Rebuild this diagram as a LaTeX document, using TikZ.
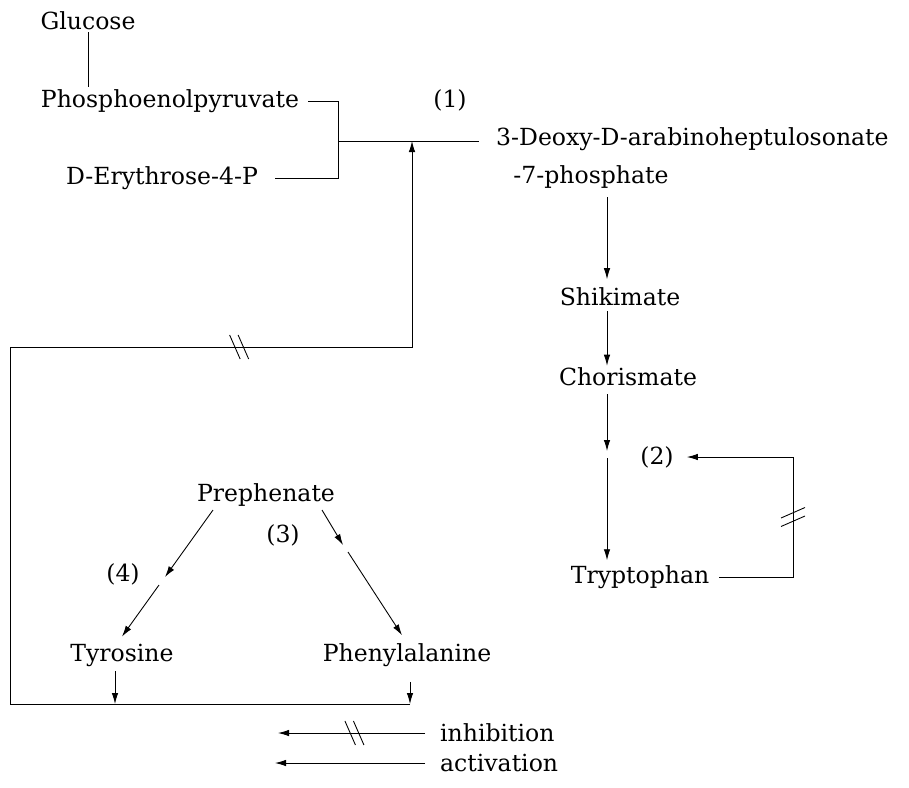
\documentclass[tikz,border=0pt]{standalone}
\usepackage{fontspec}
\setmainfont{DejaVu Serif}
\usetikzlibrary{arrows.meta}
\tikzset{
    met/.style={inner sep=1pt, font=\fontsize{13.4}{16}\selectfont},
    pathway/.style={-{Latex[length=2.2mm,width=1.3mm]}},
    inh/.pic={\draw[-] (-1.9mm,2.4mm) -- (0.2mm,-2.4mm); \draw[-] (-0.2mm,2.4mm) -- (1.9mm,-2.4mm);}
}

\begin{document}
\begin{tikzpicture}[x=0.2mm, y=-0.2mm, line width=0.5pt]
            \useasboundingbox (0,0) rectangle (909,787);
            \node[met] (glc) at (88,21) {Glucose};
            \node[met] (pep) at (170,101) {Phosphoenolpyruvate};
            \node[met] (e4p) at (162,178) {D-Erythrose-4-P};
            \node[met, anchor=west] (dahp) at (494,139) {3-Deoxy-D-arabinoheptulosonate};
            \node[met] (dahp2) at (591,177) {-7-phosphate};
            \node[met] (shk) at (620,297) {Shikimate};
            \node[met] (cho) at (628,377) {Chorismate};
            \node[met] (trp) at (640,577) {Tryptophan};
            \node[met] (pre) at (266,495) {Prephenate};
            \node[met] (tyr) at (122,655) {Tyrosine};
            \node[met] (phe) at (407,655) {Phenylalanine};
            \node[met] (e1) at (450,100) {(1)};
            \node[met] (e2) at (657,457) {(2)};
            \node[met] (e3) at (283,535) {(3)};
            \node[met] (e4) at (123,574) {(4)};
            \node[met, anchor=west] (inhlbl) at (438,733) {inhibition};
            \node[met, anchor=west] (actlbl) at (438,763) {activation};
            \coordinate (jn) at (338,141);
            \coordinate (col) at (607,197);
            \coordinate (brk2) at (607,451);
            \coordinate (brk2b) at (607,458);
            \coordinate (trpr) at (793,457);
            \coordinate (p4a) at (213,510);
            \coordinate (br4) at (165,577);
            \coordinate (br4b) at (159,585);
            \coordinate (p3a) at (322,510);
            \coordinate (br3) at (343,545);
            \coordinate (br3b) at (348,552);
            \coordinate (lpbr) at (410,704);
            \coordinate (lpbl) at (10,704);
            \coordinate (lptl) at (10,347);
            \coordinate (lptr) at (412,347);
            \draw (glc.south) -- (glc.south |- pep.north);
            \draw ([xshift=1.4mm]pep.east) -| (jn);
            \draw ([xshift=3mm]e4p.east) -| (jn);
            \draw (jn) -- ([xshift=-3mm]jn -| dahp.west);
            \draw[pathway] (col) -- ([yshift=1.3mm]col |- shk.north);
            \draw[pathway, shorten <=0.6mm] (col |- shk.south) -- (col |- cho.north);
            \draw[pathway, shorten <=1.2mm] (col |- cho.south) -- (brk2);
            \draw[pathway] (brk2b) -- ([yshift=0.6mm]col |- trp.north);
            \draw[pathway] ([xshift=1.6mm]trp.east) -| pic[pos=0.75, sloped]{inh} (trpr) -- ([xshift=2.2mm]e2.east);
            \draw[pathway] (p4a) -- (br4);
            \draw[pathway] (br4b) -- ([yshift=1mm]tyr.north);
            \draw[pathway] (p3a) -- (br3);
            \draw[pathway] (br3b) -- ([xshift=-1mm,yshift=1.2mm]phe.north);
            \draw[pathway, shorten <=0.6mm] ([xshift=-1.4mm]tyr.south) -- ([xshift=-1.4mm]tyr.south |- lpbl);
            \draw[pathway, shorten <=2.6mm] (lpbr |- phe.south) -- (lpbr);
            \draw[pathway] (lpbr) -- (lpbl) -- (lptl) -- pic[pos=0.57, sloped]{inh} (lptr) -- (lptr |- jn);
            \draw[pathway] ([xshift=-2.6mm]inhlbl.west) -- pic[pos=0.48, sloped]{inh} ++(-147,0);
            \draw[pathway] ([xshift=-2.6mm]actlbl.west) -- ++(-150,0);
\end{tikzpicture}
\end{document}
